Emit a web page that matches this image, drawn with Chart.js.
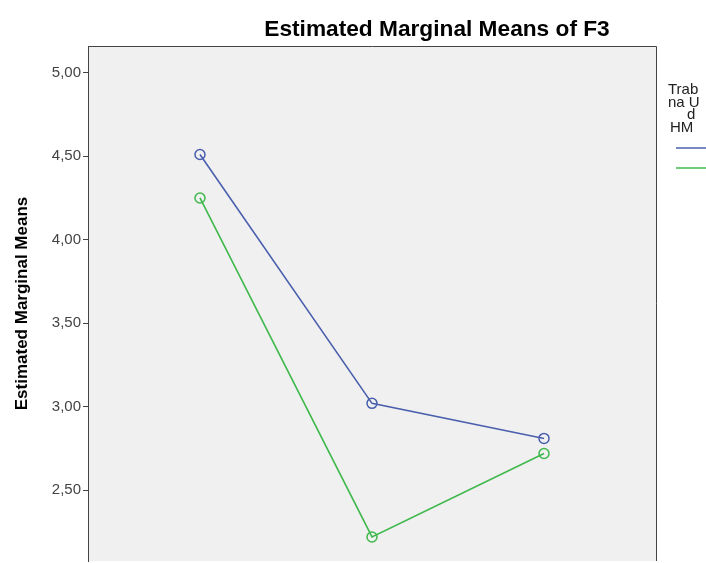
<!DOCTYPE html>
<html>
<head>
<meta charset="utf-8">
<script src="https://cdn.jsdelivr.net/npm/chart.js@4/dist/chart.umd.min.js"></script>
<style>
  html, body { margin: 0; padding: 0; background: #ffffff; }
  #wrap { width: 706px; height: 563px; position: relative; overflow: hidden; }
</style>
</head>
<body>
<div id="wrap"><canvas id="c" width="706" height="572"></canvas></div>
<script>
// Estimated marginal means of F3 at the three factor levels
const categories = [1, 2, 3];
const seriesBlue = [4.51, 3.02, 2.81];
const seriesGreen = [4.25, 2.22, 2.72];
const yTicks = [2.5, 3.0, 3.5, 4.0, 4.5, 5.0];
const legendTitleLines = ['Trab', 'na U', 'd', 'HM'];

const BLUE = '#4a5fae';
const GREEN = '#3fb84c';
const FONT = '"Liberation Sans", Arial, sans-serif';

function toPoints(values) {
  return categories.map((c, i) => ({ x: c, y: values[i] }));
}

// Plot frame, title and legend drawn around the chart area
const decor = {
  id: 'decor',
  beforeDraw(chart) {
    const { ctx, chartArea: a } = chart;
    ctx.save();
    ctx.fillStyle = '#f0f0f0';
    ctx.fillRect(a.left, a.top, a.right - a.left, a.bottom - a.top);
    ctx.restore();
  },
  afterDraw(chart) {
    const { ctx, chartArea: a } = chart;
    ctx.save();
    ctx.strokeStyle = '#444444';
    ctx.lineWidth = 1;
    ctx.beginPath();
    ctx.moveTo(a.left + 0.5, a.bottom);
    ctx.lineTo(a.left + 0.5, a.top + 0.5);
    ctx.lineTo(a.right + 0.5, a.top + 0.5);
    ctx.lineTo(a.right + 0.5, a.bottom);
    ctx.stroke();

    ctx.fillStyle = '#000000';
    ctx.font = 'bold 22.7px ' + FONT;
    ctx.textAlign = 'center';
    ctx.textBaseline = 'middle';
    ctx.fillText('Estimated Marginal Means of F3', 437, 30);

    ctx.font = '15px ' + FONT;
    ctx.fillStyle = '#222222';
    ctx.textAlign = 'left';
    const xs = [668, 668, 687, 670];
    legendTitleLines.forEach((t, i) => {
      ctx.fillText(t, xs[i], 90 + i * 12.5);
    });

    ctx.lineWidth = 1.5;
    [[BLUE, 148], [GREEN, 168]].forEach(([col, y]) => {
      ctx.strokeStyle = col;
      ctx.beginPath();
      ctx.moveTo(676, y);
      ctx.lineTo(706, y);
      ctx.stroke();
    });
    ctx.restore();
  }
};

new Chart(document.getElementById('c'), {
  type: 'line',
  data: {
    datasets: [
      {
        data: toPoints(seriesBlue),
        borderColor: BLUE,
        backgroundColor: 'rgba(0,0,0,0)',
        borderWidth: 1.6,
        pointRadius: 5,
        pointBorderWidth: 1.5,
        pointBorderColor: BLUE,
        pointBackgroundColor: 'rgba(0,0,0,0)',
        tension: 0
      },
      {
        data: toPoints(seriesGreen),
        borderColor: GREEN,
        backgroundColor: 'rgba(0,0,0,0)',
        borderWidth: 1.6,
        pointRadius: 5,
        pointBorderWidth: 1.5,
        pointBorderColor: GREEN,
        pointBackgroundColor: 'rgba(0,0,0,0)',
        tension: 0
      }
    ]
  },
  options: {
    responsive: false,
    animation: false,
    layout: { padding: { top: 46, right: 50, bottom: 0, left: 0 } },
    plugins: {
      legend: { display: false },
      title: { display: false },
      tooltip: { enabled: false }
    },
    scales: {
      x: {
        type: 'linear',
        display: false,
        min: 0.349,
        max: 3.651
      },
      y: {
        type: 'linear',
        min: 2.076,
        max: 5.16,
        afterFit(scale) { scale.width = 88; },
        afterBuildTicks(scale) { scale.ticks = yTicks.map(v => ({ value: v })); },
        border: { display: true, color: '#444444', width: 1 },
        grid: {
          drawOnChartArea: false,
          drawTicks: true,
          tickLength: 5,
          tickColor: '#444444'
        },
        ticks: {
          color: '#444444',
          padding: 2,
          font: { family: FONT, size: 15 },
          callback: v => v.toFixed(2).replace('.', ',')
        },
        title: {
          display: true,
          text: 'Estimated Marginal Means',
          color: '#000000',
          padding: { top: 12, bottom: 0 },
          font: { family: FONT, size: 17, weight: 'bold' }
        }
      }
    }
  },
  plugins: [decor]
});
</script>
</body>
</html>
